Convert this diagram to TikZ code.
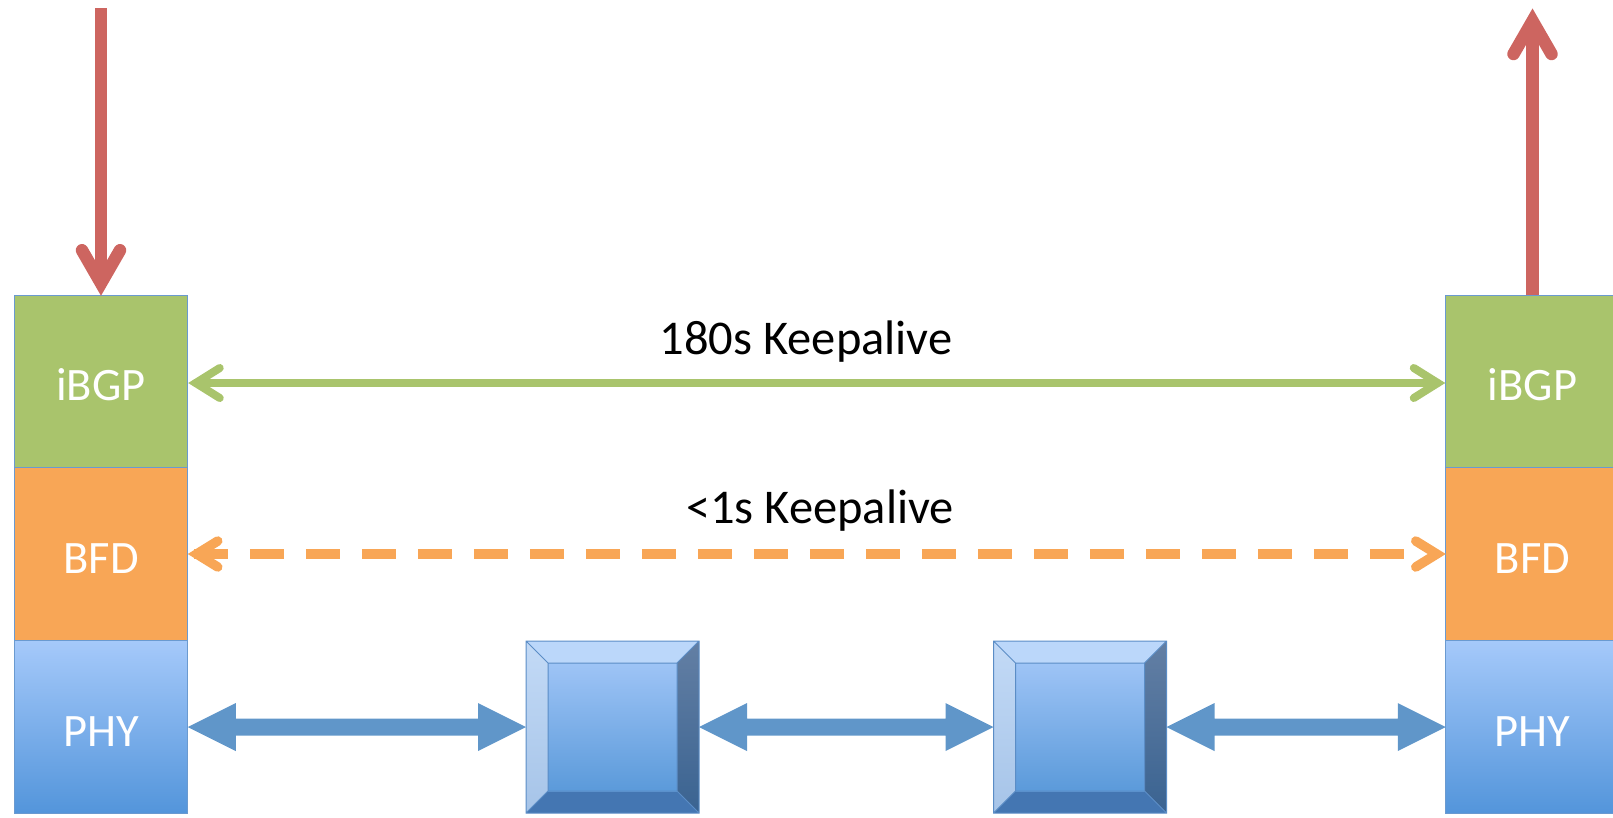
\documentclass[tikz,border=0pt]{standalone}
\usepackage{fontspec}
\setmainfont{Carlito}
\usetikzlibrary{calc}

\definecolor{bgpgreen}{HTML}{A9C46C}
\definecolor{bfdorange}{HTML}{F8A656}
\definecolor{phytop}{HTML}{A5C9FA}
\definecolor{phybot}{HTML}{5395DB}
\definecolor{edgeblue}{HTML}{6A9AD0}
\definecolor{flowred}{HTML}{CD6560}
\definecolor{linkblue}{HTML}{6096C9}
\definecolor{bevelline}{HTML}{5B8DC6}
\definecolor{beveltop}{HTML}{BBD7FA}
\definecolor{bevelleftA}{HTML}{C3DAF6}
\definecolor{bevelleftB}{HTML}{A6C4E8}
\definecolor{bevelrightA}{HTML}{637FA4}
\definecolor{bevelrightB}{HTML}{3A6391}
\definecolor{bevelbottom}{HTML}{4476B2}
\definecolor{facetop}{HTML}{9EC4F6}
\definecolor{facebot}{HTML}{5B9ADA}

% bevelled relay box: four sloped faces around a shaded square
\newcommand\bevelface[1]{%
  \coordinate (#1-a) at ($(#1.north west)+(22,22)$);
  \coordinate (#1-b) at ($(#1.north east)+(-22,22)$);
  \coordinate (#1-c) at ($(#1.south east)+(-22,-22)$);
  \coordinate (#1-d) at ($(#1.south west)+(22,-22)$);
  \fill[beveltop] (#1.north west) -- (#1.north east) -- (#1-b) -- (#1-a) -- cycle;
  \shade[top color=bevelleftA, bottom color=bevelleftB]
    (#1.north west) -- (#1-a) -- (#1-d) -- (#1.south west) -- cycle;
  \shade[top color=bevelrightA, bottom color=bevelrightB]
    (#1.north east) -- (#1.south east) -- (#1-c) -- (#1-b) -- cycle;
  \fill[bevelbottom] (#1.south west) -- (#1-d) -- (#1-c) -- (#1.south east) -- cycle;
  \shade[top color=facetop, bottom color=facebot] (#1-a) rectangle (#1-c);
  \draw[bevelline, line width=1pt, line join=miter]
    (#1.north west) rectangle (#1.south east)
    (#1-a) rectangle (#1-c)
    (#1.north west) -- (#1-a) (#1.north east) -- (#1-b)
    (#1.south east) -- (#1-c) (#1.south west) -- (#1-d);
}

% physical link: double-headed block arrow between two anchors
\newcommand\linkarrow[2]{%
  \fill[linkblue] let \p1=(#1), \p2=(#2) in
    (\x1,\y1) -- (\x1+48pt,\y1+24pt) -- (\x1+48pt,\y1+8.5pt)
    -- (\x2-48pt,\y1+8.5pt) -- (\x2-48pt,\y1+24pt) -- (\x2,\y1)
    -- (\x2-48pt,\y1-24pt) -- (\x2-48pt,\y1-8.5pt)
    -- (\x1+48pt,\y1-8.5pt) -- (\x1+48pt,\y1-24pt) -- cycle;
}

\begin{document}
\begin{tikzpicture}[x=1pt, y=-1pt,
  layer/.style={draw=edgeblue, line width=1.2pt, minimum width=173.5pt,
    minimum height=172.5pt, inner sep=0pt, outer sep=0pt, text=white,
    font=\fontsize{46.5}{56}\selectfont, text height=38pt, text depth=0pt},
  relay/.style={minimum width=173pt, minimum height=172pt, inner sep=0pt, outer sep=0pt},
  flow/.style={draw=flowred, line width=12.5pt, line cap=butt},
  flowhead/.style={draw=flowred, line width=12.5pt, line cap=round, line join=miter},
  bgpline/.style={draw=bgpgreen, line width=8pt, line cap=round, line join=miter},
  bfdline/.style={draw=bfdorange, line width=9.5pt, line cap=round, line join=miter},
  lbl/.style={font=\fontsize{48.5}{58}\selectfont, inner sep=0pt}]

\clip (0,0) rectangle (1613,817);

% protocol stacks
\node[layer, fill=bgpgreen] (lI) at (101,381.5) {iBGP};
\node[layer, fill=bfdorange] (lB) at (101,554) {BFD};
\node[layer, top color=phytop, bottom color=phybot] (lP) at (101,727) {PHY};
\node[layer, fill=bgpgreen] (rI) at (1532.5,381.5) {iBGP};
\node[layer, fill=bfdorange] (rB) at (1532.5,554) {BFD};
\node[layer, top color=phytop, bottom color=phybot] (rP) at (1532.5,727) {PHY};

% relays in the path
\node[relay] (s1) at (612.5,727) {};
\node[relay] (s2) at (1080,727) {};
\bevelface{s1}
\bevelface{s2}

% physical links
\linkarrow{lP.east}{s1.west}
\linkarrow{s1.east}{s2.west}
\linkarrow{s2.east}{rP.west}

% incoming and outgoing traffic
\coordinate (inTop) at (101,8);
\coordinate (inTip) at ($(lI.north)+(0,-12)$);
\draw[flow] (inTop) -- (inTip);
\draw[flowhead] ($(inTip)+(-19,-33)$) -- (inTip) -- ($(inTip)+(19,-33)$);

\coordinate (outTip) at (1532.5,21);
\draw[flow] (rI.north) -- (outTip);
\draw[flowhead] ($(outTip)+(-19,33)$) -- (outTip) -- ($(outTip)+(19,33)$);

% iBGP session
\coordinate (gL) at ($(lI.east)+(8,1.5)$);
\coordinate (gR) at ($(rI.west)+(-8,1.5)$);
\draw[bgpline] (gL) -- (gR);
\draw[bgpline] ($(gL)+(24,-15)$) -- (gL) -- ($(gL)+(24,15)$);
\draw[bgpline] ($(gR)+(-24,-15)$) -- (gR) -- ($(gR)+(-24,15)$);
\node[lbl] (k180) at (806,342) {180s Keepalive};

% BFD session
\coordinate (bL) at ($(lB.east)+(9,0)$);
\coordinate (bR) at ($(rB.west)+(-9,0)$);
\draw[bfdline, line cap=butt, dash pattern=on 34pt off 22pt] ($(bL)+(-3,0)$) -- ($(bR)+(-33,0)$);
\draw[bfdline] ($(bL)+(21,-13)$) -- (bL) -- ($(bL)+(21,13)$);
\draw[bfdline] ($(bR)+(-21,-13)$) -- (bR) -- ($(bR)+(-21,13)$);
\node[lbl] (k1) at (820,511) {<1s Keepalive};

\end{tikzpicture}
\end{document}
